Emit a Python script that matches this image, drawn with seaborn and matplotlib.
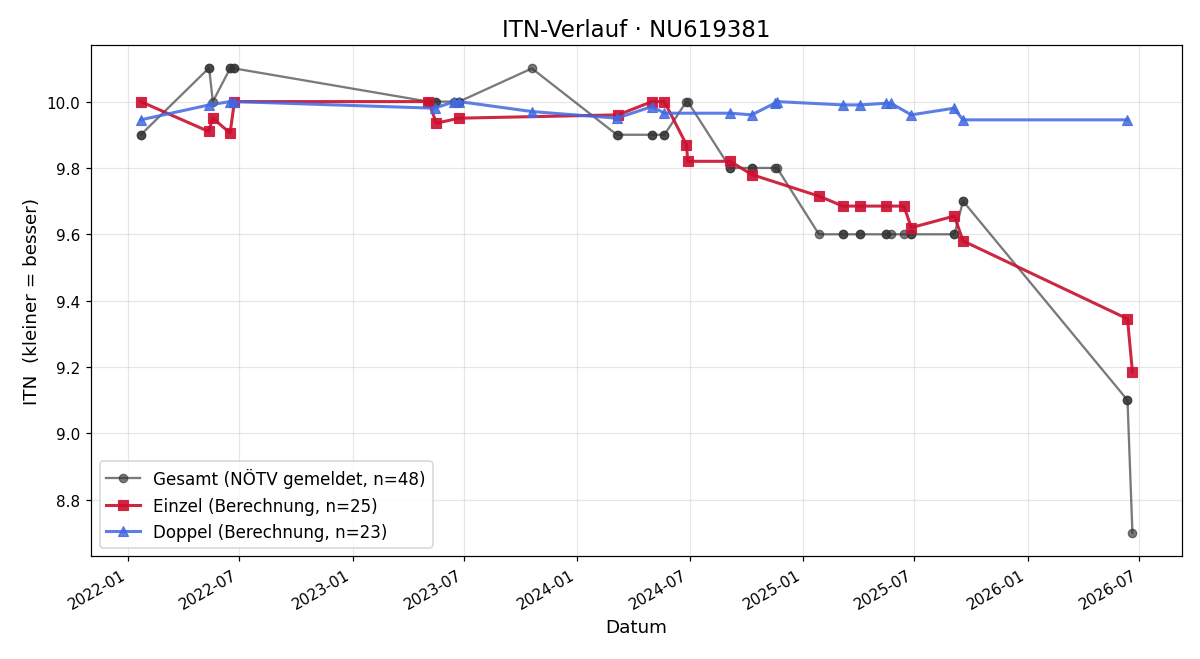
import matplotlib
matplotlib.use('Agg')
import matplotlib.pyplot as plt
import matplotlib.dates as mdates
import seaborn as sns
import pandas as pd

#---data
einzel_dates = ['2022-01-22', '2022-05-12', '2022-05-19', '2022-06-16', '2022-06-23',
                '2023-05-04', '2023-05-17', '2023-06-23', '2024-03-07', '2024-05-01',
                '2024-05-21', '2024-06-26', '2024-06-28', '2024-09-05', '2024-10-10',
                '2025-01-27', '2025-03-07', '2025-04-04', '2025-05-16', '2025-06-14',
                '2025-06-26', '2025-09-04', '2025-09-18', '2026-06-12', '2026-06-20']
einzel_itn = [10.0, 9.91, 9.95, 9.905, 10.0,
              10.0, 9.935, 9.95, 9.96, 10.0,
              10.0, 9.87, 9.82, 9.82, 9.78,
              9.715, 9.685, 9.685, 9.685, 9.685,
              9.62, 9.655, 9.58, 9.345, 9.185]

doppel_dates = ['2022-01-22', '2022-05-13', '2022-06-16', '2022-06-23', '2023-05-14',
                '2023-06-15', '2023-06-23', '2023-10-19', '2024-03-05', '2024-05-01',
                '2024-05-21', '2024-09-05', '2024-10-10', '2024-11-16', '2024-11-20',
                '2025-03-07', '2025-04-04', '2025-05-16', '2025-05-24', '2025-06-26',
                '2025-09-03', '2025-09-18', '2026-06-12']
doppel_itn = [9.945, 9.99, 10.0, 10.0, 9.98,
              10.0, 10.0, 9.97, 9.95, 9.985,
              9.965, 9.965, 9.96, 9.995, 10.0,
              9.99, 9.99, 9.995, 9.995, 9.96,
              9.98, 9.945, 9.945]

# gesamt = reported value at every single/double date (48 entries)
gesamt_einzel = [9.9, 10.1, 10.0, 10.1, 10.1,
                 10.0, 10.0, 10.0, 9.9, 9.9,
                 9.9, 10.0, 10.0, 9.8, 9.8,
                 9.6, 9.6, 9.6, 9.6, 9.6,
                 9.6, 9.6, 9.7, 9.1, 8.7]
gesamt_doppel = [9.9, 10.1, 10.1, 10.1, 10.0,
                 10.0, 10.0, 10.1, 9.9, 9.9,
                 9.9, 9.8, 9.8, 9.8, 9.8,
                 9.6, 9.6, 9.6, 9.6, 9.6,
                 9.6, 9.7, 9.1]

df_e = pd.DataFrame({'datum': pd.to_datetime(einzel_dates), 'itn': einzel_itn})
df_d = pd.DataFrame({'datum': pd.to_datetime(doppel_dates), 'itn': doppel_itn})
df_g = pd.DataFrame({'datum': pd.to_datetime(einzel_dates + doppel_dates),
                     'itn': gesamt_einzel + gesamt_doppel}).sort_values('datum', kind='stable')

#---plot (plain matplotlib look, seaborn for the lines)
fig, ax = plt.subplots(figsize=(12 / 1.1, 6.6 / 1.1), dpi=110)

sns.lineplot(x='datum', y='itn', data=df_g, estimator=None, sort=False, ax=ax,
             color='#333333', alpha=0.65, lw=1.5, marker='o', markersize=5.5,
             markeredgecolor='#333333', markeredgewidth=0.8,
             label='Gesamt (NÖTV gemeldet, n=48)')
sns.lineplot(x='datum', y='itn', data=df_e, estimator=None, ax=ax,
             color='#C8102E', alpha=0.9, lw=2, marker='s', markersize=7,
             markeredgecolor='#DC143C', label='Einzel (Berechnung, n=25)')
sns.lineplot(x='datum', y='itn', data=df_d, estimator=None, ax=ax,
             color='#4169E1', alpha=0.85, lw=2, marker='^', markersize=7,
             markeredgecolor='#4169E1', label='Doppel (Berechnung, n=23)')

ax.xaxis.set_major_locator(mdates.MonthLocator(bymonth=[1, 7]))
ax.xaxis.set_major_formatter(mdates.DateFormatter('%Y-%m'))
ax.grid(True, alpha=0.3)
ax.set_title('ITN-Verlauf · NU619381', fontsize=15)
ax.set_xlabel('Datum', fontsize=12)
ax.set_ylabel('ITN  (kleiner = besser)', fontsize=12)
ax.legend(loc='lower left', fontsize=11)
fig.autofmt_xdate()
fig.subplots_adjust(left=0.076, right=0.985, top=0.93, bottom=0.156)
plt.savefig('out.png')
